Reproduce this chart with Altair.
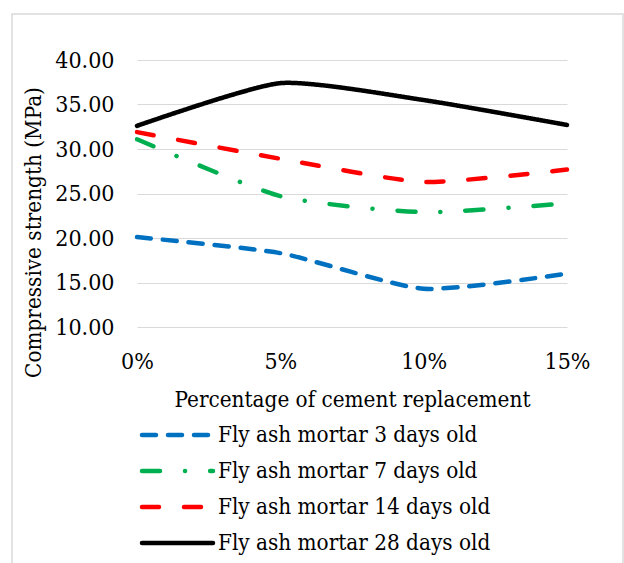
import altair as alt
import pandas as pd

# Cement replacement levels (%) and compressive strength (MPa) per curing age
replacement = [0, 5, 10, 15]
series_names = [
    "Fly ash mortar 3 days old",
    "Fly ash mortar 7 days old",
    "Fly ash mortar 14 days old",
    "Fly ash mortar 28 days old",
]
strength_3d = [20.1, 18.3, 14.3, 16.0]
strength_7d = [31.1, 24.7, 22.9, 23.9]
strength_14d = [31.9, 28.9, 26.3, 27.7]
strength_28d = [32.6, 37.4, 35.5, 32.7]

colors = ["#0070C0", "#00B050", "#FF0000", "#000000"]
dashes = [[14, 12], [18, 25, 0.1, 25], [17, 25], [1, 0]]

rows = []
for name, vals in zip(series_names, [strength_3d, strength_7d, strength_14d, strength_28d]):
    for x, v in zip(replacement, vals):
        rows.append({"replacement": x, "strength": v, "series": name})
df = pd.DataFrame(rows)
legend_df = pd.DataFrame({"series": series_names})

FONT = "DejaVu Serif Condensed, DejaVu Serif"
LABEL_FS = 23
TEXT_FS = 22.3

color_scale = alt.Scale(domain=series_names, range=colors)
dash_scale = alt.Scale(domain=series_names, range=dashes)

lines = alt.Chart(df).mark_line(
    interpolate="cardinal", tension=0.4, strokeWidth=4.5,
    strokeCap="round", strokeJoin="round"
).encode(
    x=alt.X(
        "replacement:Q",
        scale=alt.Scale(domain=[0, 15], nice=False, zero=False),
        axis=alt.Axis(
            values=replacement,
            labelExpr="datum.value + '%'",
            labelFlush=False,
            grid=False,
            domain=False,
            ticks=False,
            tickSize=0,
            labelPadding=41,
            labelBaseline="alphabetic",
            title="Percentage of cement replacement",
            titleY=79,
            titleBaseline="alphabetic",
        ),
    ),
    y=alt.Y(
        "strength:Q",
        scale=alt.Scale(domain=[10, 40], nice=False, zero=False),
        axis=alt.Axis(
            values=[10, 15, 20, 25, 30, 35, 40],
            format=".2f",
            domain=False,
            ticks=False,
            tickSize=0,
            labelPadding=23,
            labelFlush=False,
            title="Compressive strength (MPa)",
            titleX=-104,
            titleY=172,
            titleBaseline="middle",
            titleAlign="center",
            titleAngle=-90,
        ),
    ),
    color=alt.Color("series:N", scale=color_scale, legend=None),
    strokeDash=alt.StrokeDash("series:N", scale=dash_scale, legend=None),
)

# Legend rows: key line and label for each series
legend_y = alt.Y(
    "series:N",
    scale=alt.Scale(type="point", domain=series_names, range=[375, 483], padding=0),
    axis=None,
)
legend_keys = alt.Chart(legend_df).mark_rule(strokeWidth=4.5, strokeCap="round").encode(
    x=alt.value(5),
    x2=alt.value(76),
    y=legend_y,
    color=alt.Color("series:N", scale=color_scale, legend=None),
    strokeDash=alt.StrokeDash("series:N", scale=dash_scale, legend=None),
)
legend_labels = alt.Chart(legend_df).mark_text(
    align="left", baseline="middle", font=FONT, fontSize=TEXT_FS, color="#000000"
).encode(
    x=alt.value(81),
    y=legend_y,
    text="series:N",
)

# Light grey frame around the whole chart
frame = alt.Chart(alt.Data(values=[{}])).mark_rect(
    fill=None, stroke="#d9d9d9", strokeWidth=1.5
).encode(
    x=alt.value(-125), x2=alt.value(486), y=alt.value(-46), y2=alt.value(520)
)

chart = alt.layer(frame, lines, legend_keys, legend_labels).resolve_scale(
    y="independent"
).properties(
    width=430,
    height=267,
    autosize=alt.AutoSizeParams(type="none"),
    padding={"left": 137, "top": 60, "right": 57, "bottom": 236},
).configure_view(
    stroke=None
).configure_axis(
    labelFont=FONT,
    titleFont=FONT,
    labelFontSize=LABEL_FS,
    titleFontSize=TEXT_FS,
    labelColor="#000000",
    titleColor="#000000",
    titleFontWeight="normal",
    gridColor="#d9d9d9",
    gridWidth=1.2,
)

chart.save("out.html", embed_options={"renderer": "svg", "actions": False})
